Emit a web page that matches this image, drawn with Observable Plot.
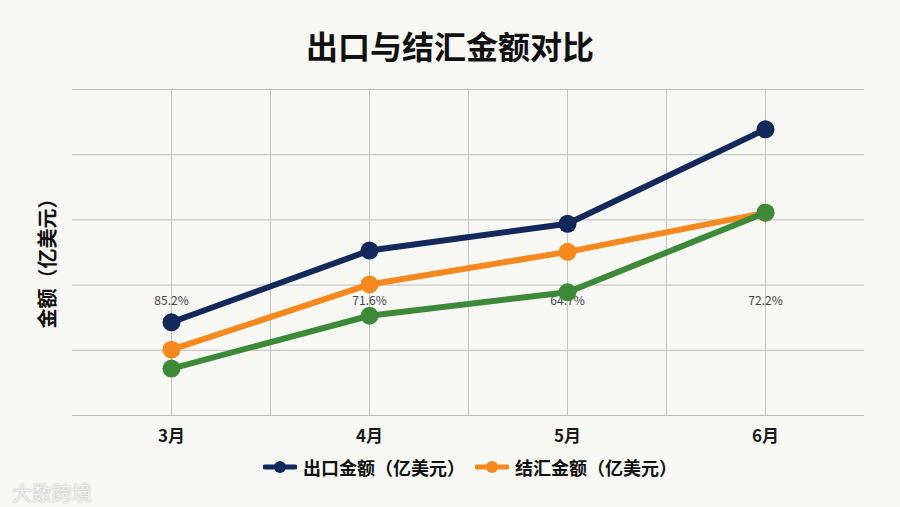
<!DOCTYPE html>
<html>
<head>
<meta charset="utf-8">
<script src="https://cdn.jsdelivr.net/npm/d3@7"></script>
<script src="https://cdn.jsdelivr.net/npm/@observablehq/plot@0.6"></script>
<style>
  html, body { margin: 0; padding: 0; background: #f7f7f4; }
  #wrap { position: relative; width: 900px; height: 507px; background: #f7f7f4; overflow: hidden;
          font-family: "Noto Sans CJK SC", "Noto Sans", sans-serif; }
  #title { position: absolute; left: 0; top: 24px; width: 900px; text-align: center;
           font-size: 32px; line-height: 42px; font-weight: 700; color: #111; }
  #chart { position: absolute; left: 0; top: 70px; }
  #legend { position: absolute; left: 20px; top: 455px; width: 900px; height: 24px;
            display: flex; justify-content: center; align-items: center; gap: 10px;
            font-size: 18px; font-weight: 700; color: #111; }
  .item { display: flex; align-items: center; gap: 6px; }
  #wm { position: absolute; left: 12px; top: 478px; font-size: 20px; color: #f0f0f0;
        text-shadow: 0 0 2px #aaa; font-weight: 400; }
</style>
</head>
<body>
<div id="wrap">
  <div id="title"></div>
  <div id="chart"></div>
  <div id="legend"></div>
  <div id="wm">大数跨境</div>
</div>
<script>
const titleText = "出口与结汇金额对比";
const yLabel = "金额（亿美元）";
const months = [3, 4, 5, 6];
const monthLabels = ["3月", "4月", "5月", "6月"];
const exportVals = [143, 253, 294, 439];
const settleVals = [101, 201, 251, 311];
const thirdVals = [72, 153, 189, 311];
const ratioLabels = ["85.2%", "71.6%", "64.7%", "72.2%"];
const ratioLabelY = 175;
const seriesNames = ["出口金额（亿美元）", "结汇金额（亿美元）", "第三系列"];
const seriesColors = ["#13295c", "#f5891e", "#3c8a37"];
const legendSeries = [0, 1];
const gridXTicks = [3, 3.5, 4, 4.5, 5, 5.5, 6];
const gridYTicks = [0, 100, 200, 300, 400, 500];

document.getElementById("title").textContent = titleText;

const valuesBySeries = [exportVals, settleVals, thirdVals];
const rows = [];
valuesBySeries.forEach((vals, si) => {
  vals.forEach((v, i) => rows.push({series: seriesNames[si], month: months[i], value: v, color: seriesColors[si]}));
});
const ratioRows = months.map((m, i) => ({month: m, label: ratioLabels[i], y: ratioLabelY}));

const marks = [
  Plot.gridY(gridYTicks, {stroke: "#bdbdbd", strokeOpacity: 1, strokeWidth: 1}),
  Plot.gridX(gridXTicks, {stroke: "#c4c4c4", strokeOpacity: 1, strokeWidth: 1, y1: 0, y2: 500}),
  Plot.axisX(months, {tickSize: 0, tickFormat: (d) => monthLabels[months.indexOf(d)], fontSize: 17,
    fontWeight: 700, fill: "#1a1a1a", tickPadding: 14, label: null}),
  Plot.text([yLabel], {frameAnchor: "left", textAnchor: "middle", rotate: -90, dx: -24, dy: 6,
    fontSize: 20, fontWeight: 700, fill: "#111"}),
  Plot.text(ratioRows, {x: "month", y: "y", text: "label", fontSize: 12, fill: "#444"})
];
valuesBySeries.forEach((vals, si) => {
  const data = rows.filter(r => r.series === seriesNames[si]);
  marks.push(Plot.line(data, {x: "month", y: "value", stroke: seriesColors[si], strokeWidth: 6, strokeLinejoin: "round", strokeLinecap: "round"}));
  marks.push(Plot.dot(data, {x: "month", y: "value", r: 9, fill: seriesColors[si], stroke: "none"}));
});

const chart = Plot.plot({
  width: 900,
  height: 385,
  marginLeft: 72,
  marginRight: 36,
  marginTop: 19,
  marginBottom: 40,
  style: {background: "transparent", fontFamily: "'Noto Sans CJK SC', 'Noto Sans', sans-serif", overflow: "visible"},
  x: {domain: [2.5, 6.5], axis: null},
  y: {domain: [0, 500], axis: null},
  marks
});
document.getElementById("chart").appendChild(chart);

const legend = document.getElementById("legend");
legendSeries.forEach(si => {
  const item = document.createElement("div");
  item.className = "item";
  const ns = "http://www.w3.org/2000/svg";
  const sw = document.createElementNS(ns, "svg");
  sw.setAttribute("width", 34); sw.setAttribute("height", 14);
  const ln = document.createElementNS(ns, "line");
  ln.setAttribute("x1", 2); ln.setAttribute("x2", 32); ln.setAttribute("y1", 7); ln.setAttribute("y2", 7);
  ln.setAttribute("stroke", seriesColors[si]); ln.setAttribute("stroke-width", 5); ln.setAttribute("stroke-linecap", "round");
  const c = document.createElementNS(ns, "circle");
  c.setAttribute("cx", 17); c.setAttribute("cy", 7); c.setAttribute("r", 6); c.setAttribute("fill", seriesColors[si]);
  sw.appendChild(ln); sw.appendChild(c);
  const t = document.createElement("span");
  t.textContent = seriesNames[si];
  item.appendChild(sw); item.appendChild(t);
  legend.appendChild(item);
});
</script>
</body>
</html>
